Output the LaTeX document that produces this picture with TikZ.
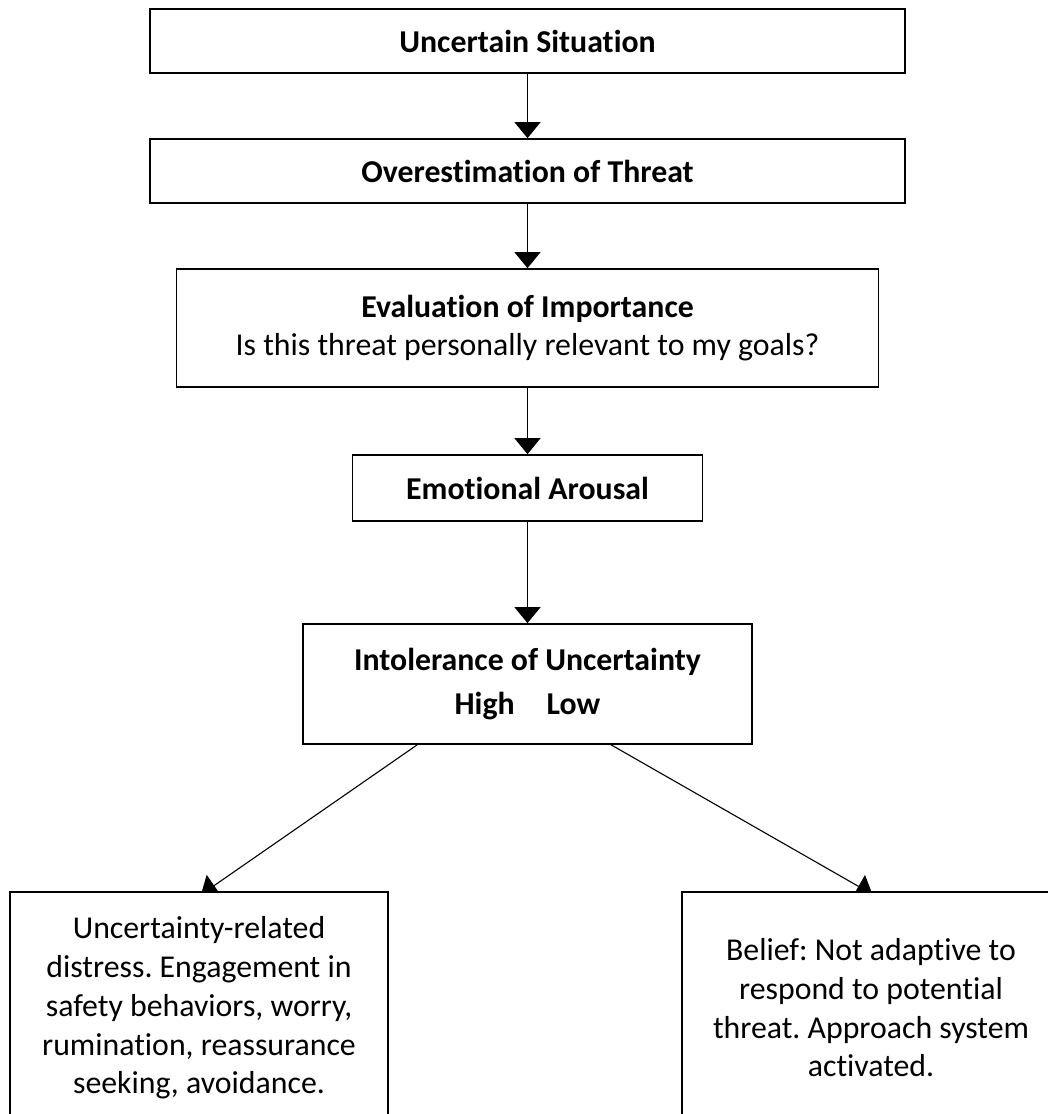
\documentclass[tikz,border=0pt]{standalone}
\usepackage{fontspec}
\setmainfont{Carlito}[Ligatures=NoCommon]
\usetikzlibrary{arrows.meta}
\frenchspacing
\begin{document}
\begin{tikzpicture}[x=1pt,y=-1pt,
  box/.style={draw, line width=1.7pt, fill=white, inner sep=0pt, align=center,
    font=\fontsize{31.8}{38.7}\selectfont},
  arr/.style={line width=1.1pt, -{Triangle[width=26pt,length=16pt]}}]
\useasboundingbox (0,0) rectangle (1048,1114);
\clip (0,0) rectangle (1048,1114);
\node[box, minimum width=755pt, minimum height=64pt] (b1) at (527.5,41) {\textbf{Uncertain Situation}};
\node[box, minimum width=755pt, minimum height=64pt] (b2) at (527.5,171) {\textbf{Overestimation of Threat}};
\node[box, minimum width=702pt, minimum height=118pt] (b3) at (527.5,328) {\textbf{Evaluation of Importance}\\Is this threat personally relevant to my goals?};
\node[box, minimum width=350pt, minimum height=66pt] (b4) at (527.5,488) {\textbf{Emotional Arousal}};
\node[box, minimum width=449pt, minimum height=120pt] (b5) at (527.5,684) {\textbf{Intolerance of Uncertainty}\\[5pt]\textbf{High\hspace{32pt}Low}};
\draw[arr] (b1) -- (b2);
\draw[arr] (b2) -- (b3);
\draw[arr] (b3) -- (b4);
\draw[arr] (b4) -- (b5);
\coordinate (s1) at ([xshift=115pt]b5.south west);
\coordinate (s2) at ([xshift=309pt]b5.south west);
\coordinate (t1) at (201,894.7);
\coordinate (t2) at (872.4,894.3);
\draw[arr] (s1) -- (t1);
\draw[arr] (s2) -- (t2);
\node[box, minimum width=378pt, minimum height=232pt] (b6) at (199,1008) {Uncertainty-related\\distress. Engagement in\\safety behaviors, worry,\\rumination, reassurance\\seeking, avoidance.};
\node[box, minimum width=378pt, minimum height=232pt] (b7) at (871,1008) {Belief: Not adaptive to\\respond to potential\\threat. Approach system\\activated.};
\end{tikzpicture}
\end{document}
